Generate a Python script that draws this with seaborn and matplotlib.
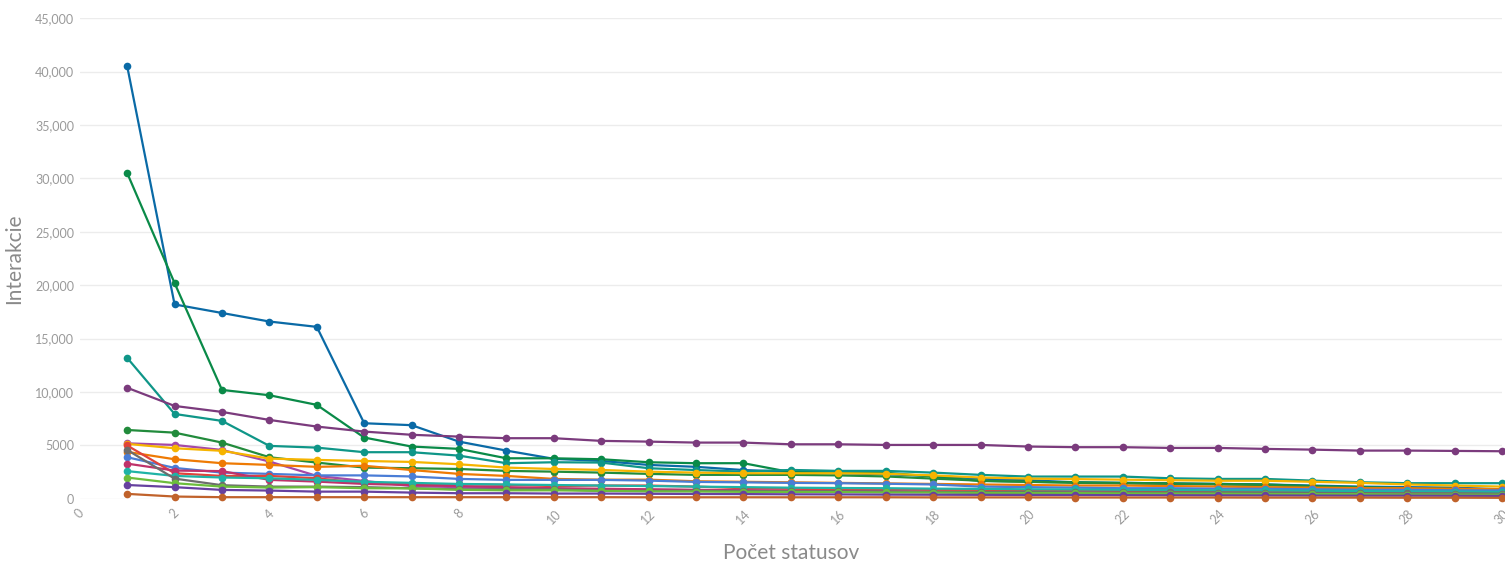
import matplotlib
matplotlib.use("Agg")
import matplotlib.pyplot as plt
import pandas as pd
import seaborn as sns

sns.set_theme(style="white")
plt.rcParams["font.family"] = ["Lato", "DejaVu Sans"]

# ----------------------------
#  Dáta (odčítané z grafu)
# ----------------------------
pocet_statusov = list(range(1, 31))

s_blue = [40500, 18200, 17400, 16600, 16100, 7080, 6900, 5360, 4520, 3750,
          3550, 3180, 3000, 2700, 2550, 2400, 2300, 2150, 1900, 1750,
          1550, 1500, 1450, 1400, 1350, 1250, 1150, 1100, 1050, 900]
s_green = [30500, 20200, 10200, 9700, 8800, 5740, 4900, 4680, 3800, 3800,
           3710, 3430, 3340, 3340, 2500, 2500, 2450, 2090, 1680, 1600,
           1550, 1500, 1450, 1400, 1350, 1200, 1100, 1000, 950, 700]
s_teal = [13200, 7950, 7300, 4960, 4800, 4370, 4370, 4050, 3340, 3430,
          3400, 2870, 2700, 2550, 2710, 2620, 2620, 2460, 2250, 2090,
          2090, 2090, 1930, 1870, 1870, 1710, 1560, 1470, 1470, 1470]
s_purple = [10400, 8700, 8140, 7390, 6770, 6300, 6000, 5830, 5680, 5680,
            5430, 5360, 5270, 5270, 5110, 5110, 5050, 5050, 5050, 4900,
            4840, 4840, 4770, 4770, 4680, 4610, 4520, 4520, 4490, 4460]
s_dkgreen = [6450, 6200, 5270, 3900, 3400, 2930, 2870, 2800, 2620, 2550,
             2460, 2340, 2250, 2250, 2250, 2200, 2100, 1900, 1700, 1600,
             1500, 1450, 1400, 1350, 1300, 1100, 1050, 900, 900, 800]
s_magenta = [5200, 5050, 4580, 3500, 2150, 1680, 1200, 1100, 1000, 950,
             900, 850, 820, 800, 760, 720, 700, 660, 650, 610,
             600, 590, 560, 550, 540, 510, 500, 490, 460, 450]
s_yellow = [5150, 4740, 4500, 3770, 3650, 3550, 3460, 3240, 2930, 2800,
            2710, 2550, 2460, 2400, 2400, 2400, 2350, 2200, 2000, 1900,
            1850, 1800, 1750, 1700, 1700, 1600, 1500, 1350, 1250, 1150]
s_orange = [4400, 3710, 3340, 3180, 3000, 3100, 2700, 2340, 2150, 1870,
            1800, 1800, 1650, 1600, 1550, 1500, 1450, 1400, 1350, 1300,
            1250, 1250, 1200, 1150, 1100, 1050, 1000, 1000, 950, 900]
s_ltblue = [3900, 2900, 2460, 2340, 2200, 2200, 2100, 1870, 1780, 1780,
            1780, 1710, 1590, 1550, 1500, 1470, 1420, 1350, 1150, 1100,
            1050, 1000, 1000, 950, 950, 900, 850, 850, 800, 800]
s_red = [5000, 2400, 2150, 2150, 1930, 1470, 1370, 1370, 1310, 1200,
         1250, 1250, 1150, 1000, 950, 900, 900, 850, 850, 800,
         800, 750, 750, 700, 700, 650, 650, 600, 600, 550]
s_crimson = [3300, 2650, 2600, 1780, 1620, 1400, 1300, 1200, 1100, 1000,
             950, 900, 850, 800, 750, 720, 700, 650, 620, 600,
             560, 550, 510, 500, 470, 450, 440, 420, 400, 390]
s_cyan = [2600, 2150, 2000, 1930, 1780, 1600, 1500, 1400, 1350, 1300,
          1250, 1200, 1150, 1100, 1050, 1020, 1000, 960, 940, 900,
          880, 850, 840, 800, 790, 760, 740, 700, 690, 650]
s_gray = [4580, 1900, 1280, 1150, 1150, 1100, 1000, 900, 900, 900,
          750, 750, 750, 740, 700, 700, 690, 650, 650, 640,
          610, 600, 600, 590, 560, 550, 540, 510, 500, 490]
s_ltgreen = [2000, 1470, 1150, 1060, 1100, 1000, 980, 850, 800, 800,
             750, 700, 690, 660, 650, 640, 600, 590, 560, 550,
             540, 510, 500, 490, 460, 450, 440, 410, 400, 390]
s_violet = [1300, 1100, 840, 780, 680, 680, 590, 530, 530, 500,
            500, 480, 460, 450, 430, 420, 400, 390, 380, 370,
            360, 350, 340, 330, 320, 310, 300, 300, 290, 280]
s_brown = [470, 220, 160, 160, 160, 160, 160, 160, 160, 160,
           160, 150, 150, 150, 150, 150, 150, 140, 140, 140,
           130, 130, 130, 130, 120, 120, 120, 110, 110, 100]

serie = {
    "s01": s_blue, "s02": s_green, "s03": s_teal, "s04": s_purple,
    "s05": s_dkgreen, "s06": s_magenta, "s07": s_yellow, "s08": s_orange,
    "s09": s_ltblue, "s10": s_red, "s11": s_crimson, "s12": s_cyan,
    "s13": s_gray, "s14": s_ltgreen, "s15": s_violet, "s16": s_brown,
}
farby = ["#0a6aa6", "#0a8a48", "#0f9688", "#7b3b7d", "#228b3c", "#a549a6",
         "#f6b400", "#ee7a04", "#4a7dd6", "#e1433a", "#bf326a", "#1fb3a6",
         "#6d6d6d", "#6cbd3c", "#66419f", "#c0622b"]

y_ticks = [0, 5000, 10000, 15000, 20000, 25000, 30000, 35000, 40000, 45000]
y_labels = ["0", "5000", "10,000", "15,000", "20,000", "25,000",
            "30,000", "35,000", "40,000", "45,000"]
x_ticks = list(range(0, 31, 2))

rows = []
for name, vals in serie.items():
    for x, v in zip(pocet_statusov, vals):
        rows.append({"status": x, "interakcie": v, "seria": name})
df = pd.DataFrame(rows)

# ----------------------------
#  Graf
# ----------------------------
fig = plt.figure(figsize=(15.05, 5.65), dpi=100)
ax = fig.add_axes([0.053, 0.117, 0.945, 0.851])

sns.lineplot(data=df, x="status", y="interakcie", hue="seria",
             palette=farby, marker="o", markersize=5.5, markeredgewidth=0,
             linewidth=1.6, legend=False, ax=ax, clip_on=False)

ax.set_xlim(0, 30)
ax.set_ylim(0, 45000)
ax.set_yticks(y_ticks)
ax.set_yticklabels(y_labels)
ax.set_xticks(x_ticks)
ax.set_xticklabels([str(t) for t in x_ticks], rotation=45, ha="center")

ax.grid(axis="y", color="#ececec", linewidth=1)
ax.grid(axis="x", visible=False)
ax.set_axisbelow(True)
for s in ax.spines.values():
    s.set_visible(False)

ax.tick_params(axis="both", length=0, colors="#9a9a9a", labelsize=9)
ax.tick_params(axis="x", pad=6)
ax.tick_params(axis="y", pad=4)

ax.set_xlabel("Počet statusov", fontsize=15, color="#8a8a8a", labelpad=12)
ax.set_ylabel("Interakcie", fontsize=15, color="#8a8a8a", labelpad=8)

plt.savefig("out.png", dpi=100)
plt.close(fig)
